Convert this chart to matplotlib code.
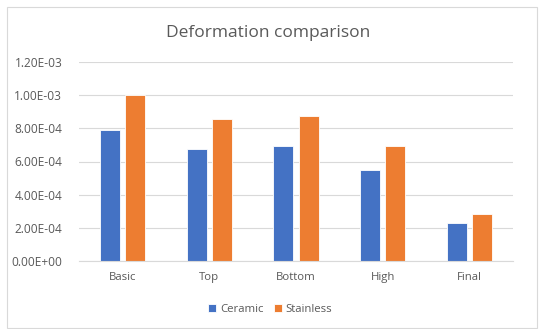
import numpy as np
import matplotlib.pyplot as plt
from matplotlib.patches import Rectangle

# deformation results for each case
cases = ['Basic', 'Top', 'Bottom', 'High', 'Final']
ceramic = [7.9e-4, 6.75e-4, 6.93e-4, 5.5e-4, 2.31e-4]
stainless = [1.0e-3, 8.57e-4, 8.73e-4, 6.93e-4, 2.85e-4]
yticks = [0, 2e-4, 4e-4, 6e-4, 8e-4, 1.0e-3, 1.2e-3]

plt.rcParams['font.family'] = ['Open Sans', 'DejaVu Sans']
txt = '#595959'

fig = plt.figure(figsize=(5.4, 3.29), dpi=100)
ax = fig.add_axes([79/540, 1 - 261/329, (513-79)/540, (261-62)/329])

# chart border
fig.patches.append(Rectangle((7/540, 1/329), 530/540, 321/329, transform=fig.transFigure,
                             fill=False, edgecolor='#d9d9d9', linewidth=0.8))

x = np.arange(len(cases))
w = 0.23
ax.bar(x - 0.145, ceramic, w, color='#4472c4', edgecolor='white', linewidth=0.6, label='Ceramic', zorder=3)
ax.bar(x + 0.145, stainless, w, color='#ed7d31', edgecolor='white', linewidth=0.6, label='Stainless', zorder=3)

ax.set_xlim(-0.5, len(cases) - 0.5)
ax.set_ylim(0, 1.2e-3)
ax.set_yticks(yticks)
ax.set_yticklabels(['%.2E' % v for v in yticks], fontsize=8.6, color=txt)
ax.set_xticks(x)
ax.set_xticklabels(cases, fontsize=8.2, color=txt)
ax.tick_params(length=0)
ax.tick_params(axis='y', pad=12)
ax.tick_params(axis='x', pad=8)
ax.yaxis.grid(True, color='#d9d9d9', linewidth=0.8, zorder=0)
for s in ['top', 'right', 'left']:
    ax.spines[s].set_visible(False)
ax.spines['bottom'].set_color('#d9d9d9')
ax.spines['bottom'].set_zorder(4)

fig.text(0.497, 1 - 33/329, 'Deformation comparison', ha='center', va='center', fontsize=12.5, color=txt)

fig.legend(loc='center', bbox_to_anchor=(0.5, 1 - 309/329), ncol=2, frameon=False,
           fontsize=8.2, handlelength=0.7, handleheight=0.7, handletextpad=0.3, columnspacing=0.9,
           labelcolor=txt)

fig.savefig('out.png', dpi=100)
